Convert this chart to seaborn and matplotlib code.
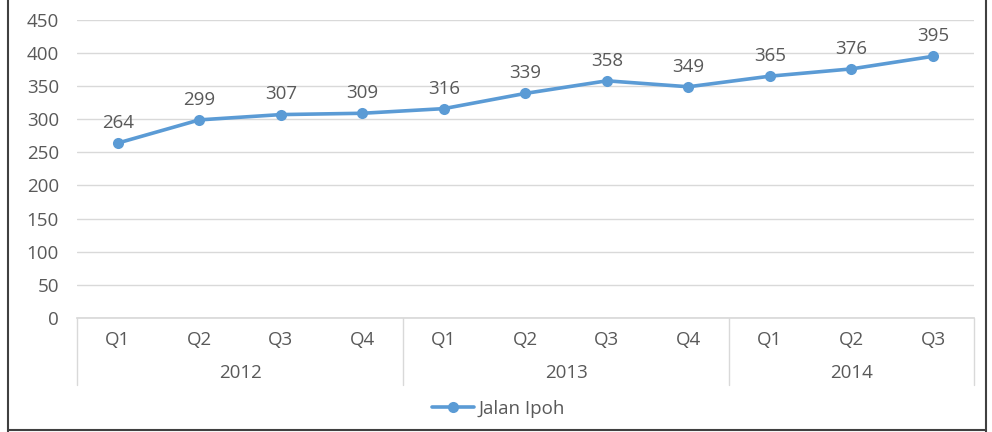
import matplotlib
matplotlib.use("Agg")
import matplotlib.pyplot as plt
import matplotlib.transforms as mtransforms
import seaborn as sns
import pandas as pd

# Daten
quarters = ['Q1', 'Q2', 'Q3', 'Q4', 'Q1', 'Q2', 'Q3', 'Q4', 'Q1', 'Q2', 'Q3']
years = ['2012', '2013', '2014']
year_counts = [4, 4, 3]
values = [264, 299, 307, 309, 316, 339, 358, 349, 365, 376, 395]
series_name = 'Jalan Ipoh'

sns.set_theme(style="white")
plt.rcParams['font.family'] = ['Open Sans', 'DejaVu Sans']

blue = '#5B9BD5'
grey_text = '#595959'
grid_col = '#D9D9D9'
fs = 13.5

df = pd.DataFrame({'pos': range(len(values)), 'wert': values, 'serie': series_name})

fig = plt.figure(figsize=(9.92, 4.32), dpi=100)
ax = fig.add_axes([0.0776, 0.264, 0.904, 0.690])

sns.lineplot(data=df, x='pos', y='wert', ax=ax, color=blue, linewidth=2.6,
             marker='o', markersize=8, markeredgewidth=0, label=series_name)

ax.set_xlim(-0.5, len(values) - 0.5)
ax.set_ylim(0, 450)
ax.set_yticks(range(0, 451, 50))
ax.yaxis.grid(True, color=grid_col, linewidth=1)
ax.xaxis.grid(False)
for s in ['top', 'right', 'left']:
    ax.spines[s].set_visible(False)
ax.spines['bottom'].set_color(grid_col)
ax.tick_params(axis='y', length=0, labelsize=fs, labelcolor=grey_text, pad=13)
ax.set_xticks([])
ax.set_xlabel('')
ax.set_ylabel('')

# Datenbeschriftungen
for i, v in enumerate(values):
    ax.annotate(str(v), (i, v), xytext=(0, 8), textcoords='offset points',
                ha='center', va='bottom', fontsize=fs, color=grey_text)

# Zweistufige Kategorieachse
trans = mtransforms.blended_transform_factory(ax.transData, ax.transAxes)
for i, q in enumerate(quarters):
    ax.text(i, -0.075, q, transform=trans, ha='center', va='center',
            fontsize=fs, color=grey_text)
start = 0
bounds = [-0.5]
for y, n in zip(years, year_counts):
    mid = start + (n - 1) / 2
    ax.text(mid, -0.185, y, transform=trans, ha='center', va='center',
            fontsize=fs, color=grey_text)
    start += n
    bounds.append(start - 0.5)
for b in bounds:
    ax.plot([b, b], [0, -0.225], transform=trans, color=grid_col,
            linewidth=1, clip_on=False)

# Legende
leg = ax.legend(loc='center', bbox_to_anchor=(0.47, -0.305), frameon=False,
                fontsize=fs, handlelength=2.2, handletextpad=0.25)
for t in leg.get_texts():
    t.set_color(grey_text)

# Rahmen
fig.add_artist(plt.Line2D([0.0085, 0.0085], [0, 1], color='#404040', linewidth=1.5,
                          transform=fig.transFigure))
fig.add_artist(plt.Line2D([0.9935, 0.9935], [0, 1], color='#404040', linewidth=1.5,
                          transform=fig.transFigure))
fig.add_artist(plt.Line2D([0.0085, 0.9935], [0.004, 0.004], color='#404040',
                          linewidth=1.5, transform=fig.transFigure))

fig.savefig('out.png', dpi=100, facecolor='white')
